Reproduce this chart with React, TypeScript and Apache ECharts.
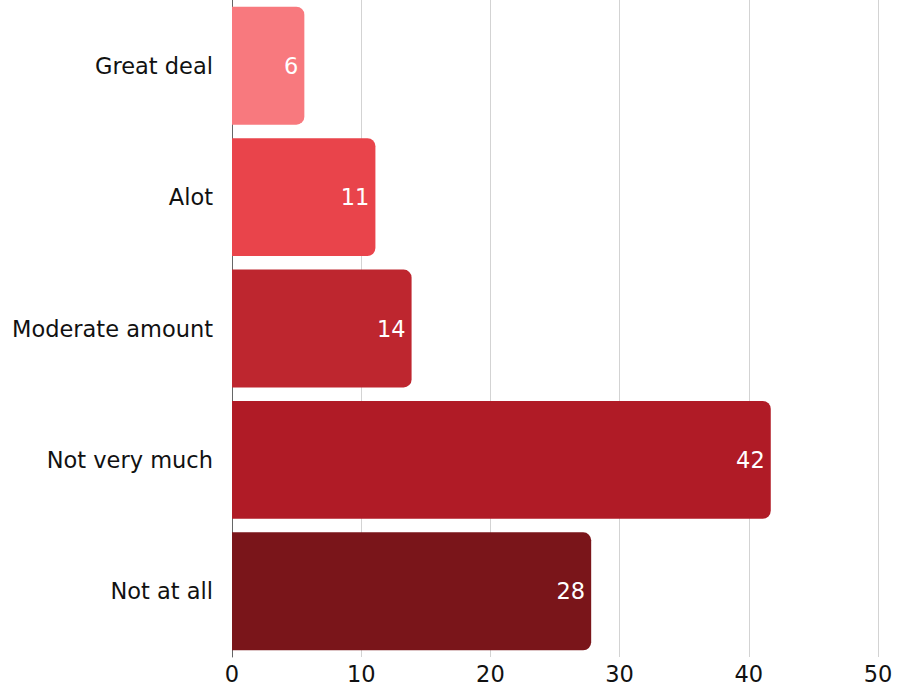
import React, { useEffect, useRef } from "react";
import * as echarts from "echarts";

const categories = ["Great deal", "Alot", "Moderate amount", "Not very much", "Not at all"];
const values = [5.6, 11.1, 13.9, 41.7, 27.8];
const barColors = ["#F8797E", "#E9444B", "#BE262F", "#B01B26", "#7A151A"];
const xTicks = [0, 10, 20, 30, 40, 50];

export default function App() {
  const ref = useRef<HTMLDivElement>(null);
  useEffect(() => {
    if (!ref.current) return;
    const chart = echarts.init(ref.current, null, { renderer: "svg" });
    chart.setOption({
      animation: false,
      textStyle: { fontFamily: "DejaVu Sans" },
      grid: { left: 232, right: 33, top: -1, height: 658, containLabel: false },
      xAxis: {
        type: "value",
        min: xTicks[0],
        max: xTicks[xTicks.length - 1],
        interval: 10,
        axisLine: { show: false },
        axisTick: { show: false },
        axisLabel: { color: "#111", fontSize: 22.5, margin: 5, fontFamily: "DejaVu Sans" },
        splitLine: { show: true, lineStyle: { color: "#d3d3d3", width: 1 } },
      },
      yAxis: {
        type: "category",
        data: categories,
        inverse: true,
        axisLine: { show: true, lineStyle: { color: "#666", width: 1 } },
        axisTick: { show: false },
        axisLabel: { color: "#111", fontSize: 22.5, margin: 19, fontFamily: "DejaVu Sans" },
      },
      series: [
        {
          type: "bar",
          data: values.map((v, i) => ({ value: v, itemStyle: { color: barColors[i] } })),
          barCategoryGap: "10.3%",
          itemStyle: { borderRadius: [0, 8, 8, 0] },
          label: {
            show: true,
            position: "insideRight",
            distance: 6,
            color: "#fff",
            fontSize: 22.5,
            fontFamily: "DejaVu Sans",
            formatter: (p: any) => String(Math.round(p.value)),
          },
        },
      ],
    });
    return () => chart.dispose();
  }, []);
  return (
    <div
      ref={ref}
      style={{ position: "absolute", left: 0, top: 0, width: 911, height: 689 }}
    />
  );
}
